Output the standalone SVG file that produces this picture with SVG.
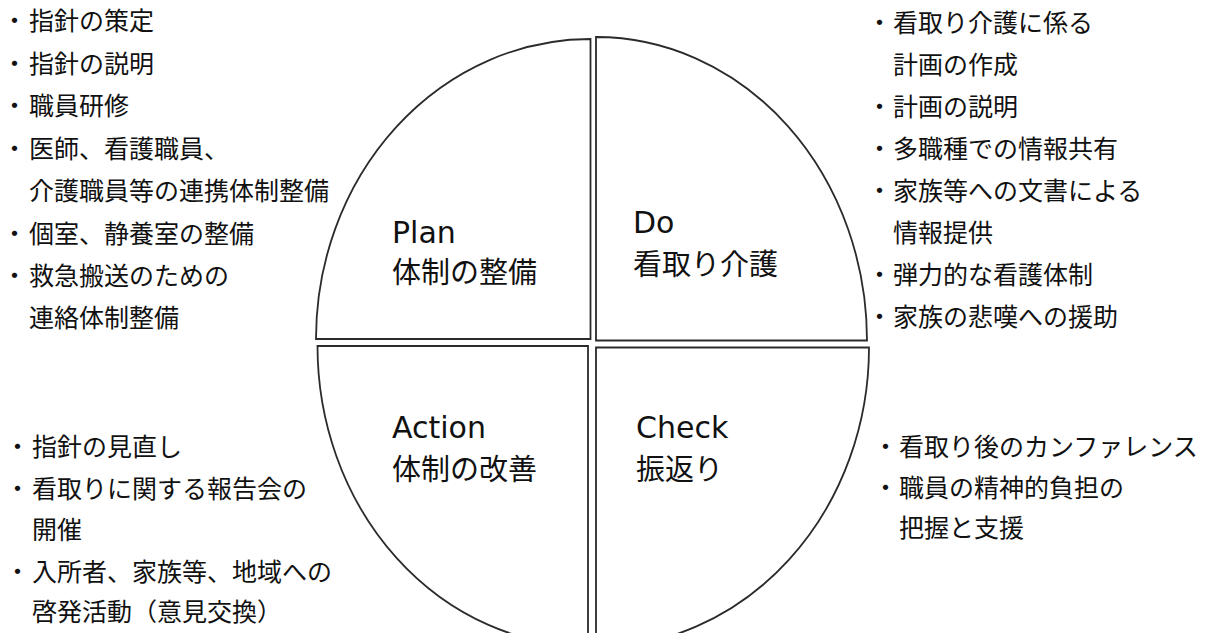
<svg xmlns="http://www.w3.org/2000/svg" width="1219" height="633" viewBox="0 0 1219 633">
<style>
.q{fill:#fff;stroke:#2b2b2b;stroke-width:1.8}
.l{font-family:"Noto Sans CJK JP","Noto Sans",sans-serif;font-size:25px;fill:#111}
.c{font-family:"Noto Sans CJK JP","Noto Sans",sans-serif;font-size:29px;fill:#111}
.e{font-family:"DejaVu Sans","Noto Sans",sans-serif;font-size:30px;fill:#111}
</style>
<rect width="1219" height="633" fill="#fff"/>
<g id="plan">
<path class="q" d="M590.5,339 L316,339 A274.5,300 0 0 1 590.5,39 Z"/>
<text class="e" x="392" y="243">Plan</text>
<text class="c" x="392" y="283">体制の整備</text>
</g>
<g id="do">
<path class="q" d="M596,37 A271,303.5 0 0 1 867,340.5 L596,340.5 Z"/>
<text class="e" x="633" y="233">Do</text>
<text class="c" x="633" y="275">看取り介護</text>
</g>
<g id="action">
<path class="q" d="M588,346 L588,646 A270.5,300 0 0 1 317.5,346 Z"/>
<text class="e" x="392" y="438">Action</text>
<text class="c" x="392" y="480">体制の改善</text>
</g>
<g id="check">
<path class="q" d="M596,347.5 L869,347.5 A273,300 0 0 1 596,647.5 Z"/>
<text class="e" x="636" y="438">Check</text>
<text class="c" x="636" y="480">振返り</text>
</g>
<g id="plan-list" class="l">
<text x="2" y="30">・<tspan x="29">指針の策定</tspan></text>
<text x="2" y="73">・<tspan x="29">指針の説明</tspan></text>
<text x="2" y="115">・<tspan x="29">職員研修</tspan></text>
<text x="2" y="158">・<tspan x="29">医師、看護職員、</tspan></text>
<text x="29" y="200">介護職員等の連携体制整備</text>
<text x="2" y="243">・<tspan x="29">個室、静養室の整備</tspan></text>
<text x="2" y="285">・<tspan x="29">救急搬送のための</tspan></text>
<text x="29" y="327">連絡体制整備</text>
</g>
<g id="do-list" class="l">
<text x="867" y="32">・<tspan x="893">看取り介護に係る</tspan></text>
<text x="893" y="74">計画の作成</text>
<text x="867" y="116">・<tspan x="893">計画の説明</tspan></text>
<text x="867" y="158">・<tspan x="893">多職種での情報共有</tspan></text>
<text x="867" y="200">・<tspan x="893">家族等への文書による</tspan></text>
<text x="893" y="242">情報提供</text>
<text x="867" y="284">・<tspan x="893">弾力的な看護体制</tspan></text>
<text x="867" y="326">・<tspan x="893">家族の悲嘆への援助</tspan></text>
</g>
<g id="action-list" class="l">
<text x="5" y="456">・<tspan x="32">指針の見直し</tspan></text>
<text x="5" y="498">・<tspan x="32">看取りに関する報告会の</tspan></text>
<text x="32" y="539">開催</text>
<text x="5" y="581">・<tspan x="32">入所者、家族等、地域への</tspan></text>
<text x="32" y="621">啓発活動（意見交換）</text>
</g>
<g id="check-list" class="l">
<text x="873" y="456">・<tspan x="899">看取り後のカンファレンス</tspan></text>
<text x="873" y="497">・<tspan x="899">職員の精神的負担の</tspan></text>
<text x="899" y="537">把握と支援</text>
</g>
</svg>
